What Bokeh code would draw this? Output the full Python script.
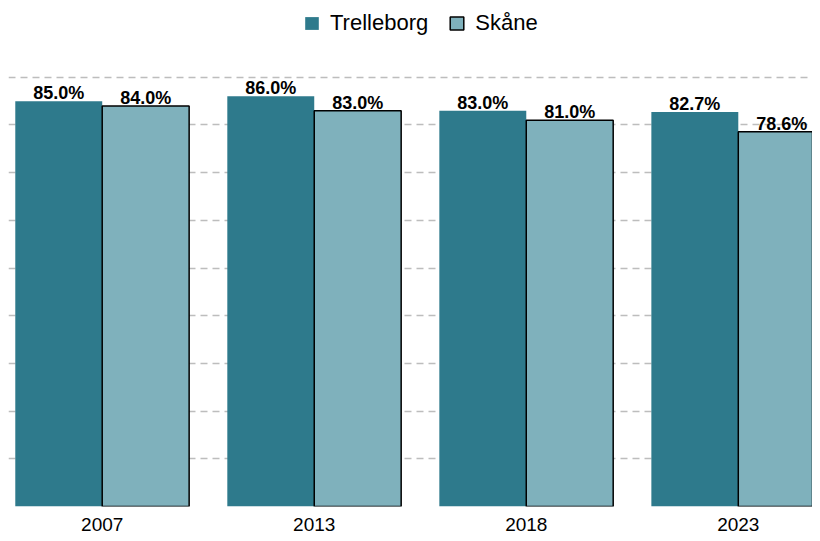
from bokeh.plotting import figure
from bokeh.models import (ColumnDataSource, FixedTicker, Range1d, LabelSet,
                          Legend, LegendItem)
from bokeh.core.properties import value
from bokeh.transform import dodge
from bokeh.embed import file_html
from bokeh.resources import INLINE

years = ["2007", "2013", "2018", "2023"]
trelleborg = [85.0, 86.0, 83.0, 82.7]
skane = [84.0, 83.0, 81.0, 78.6]
series_names = ["Trelleborg", "Skåne"]
y_ticks = [0, 10, 20, 30, 40, 50, 60, 70, 80, 90]

DARK = "#2E7A8C"
LIGHT = "#7FB1BC"

pos = list(range(len(years)))
src = ColumnDataSource(dict(
    x=pos,
    t=trelleborg,
    s=skane,
    tl=[f"{v:.1f}%" for v in trelleborg],
    sl=[f"{v:.1f}%" for v in skane],
))

p = figure(width=812, height=533, output_backend="svg", toolbar_location=None,
           x_range=Range1d(-0.442, 3.350), y_range=Range1d(0, 106.1),
           min_border_left=8, min_border_right=0, min_border_top=0,
           min_border_bottom=0)
p.outline_line_color = None
p.background_fill_color = "white"
p.border_fill_color = "white"

r1 = p.vbar(x=dodge("x", -0.205), top="t", width=0.41, source=src,
            fill_color=DARK, line_color=None)
r2 = p.vbar(x=dodge("x", 0.205), top="s", width=0.41, source=src,
            fill_color=LIGHT, line_color="black", line_width=1.5)

lbl_style = dict(text_font=value("Liberation Sans"), text_font_size=value("18px"),
                 text_font_style="bold", text_color="black",
                 text_align="center", text_baseline="alphabetic", y_offset=2)
p.add_layout(LabelSet(x=dodge("x", -0.205), y="t", text="tl", source=src, **lbl_style))
p.add_layout(LabelSet(x=dodge("x", 0.205), y="s", text="sl", source=src, **lbl_style))

# axes
p.yaxis.visible = False
p.ygrid.ticker = FixedTicker(ticks=y_ticks)
p.ygrid.grid_line_color = "#BDBDBD"
p.ygrid.grid_line_width = 1.5
p.ygrid.grid_line_dash = "7 5"
p.xgrid.visible = False

xa = p.xaxis[0]
xa.ticker = FixedTicker(ticks=pos)
xa.major_label_overrides = {i: y for i, y in enumerate(years)}
xa.axis_line_color = None
xa.major_tick_line_color = None
xa.minor_tick_line_color = None
xa.major_tick_out = 0
xa.major_tick_in = 0
xa.major_label_standoff = 11
xa.major_label_text_font = "Liberation Sans"
xa.major_label_text_font_size = "19px"
xa.major_label_text_color = "black"

legend = Legend(items=[LegendItem(label=series_names[0], renderers=[r1]),
                       LegendItem(label=series_names[1], renderers=[r2])],
                orientation="horizontal", location=(295, 470),
                padding=0, margin=0, spacing=20, label_standoff=10,
                glyph_width=17, glyph_height=16,
                label_text_font="Liberation Sans", label_text_font_size="22px",
                label_text_color="black",
                background_fill_alpha=0, border_line_color=None)
p.add_layout(legend)

open("out.html", "w").write(file_html(p, INLINE))
